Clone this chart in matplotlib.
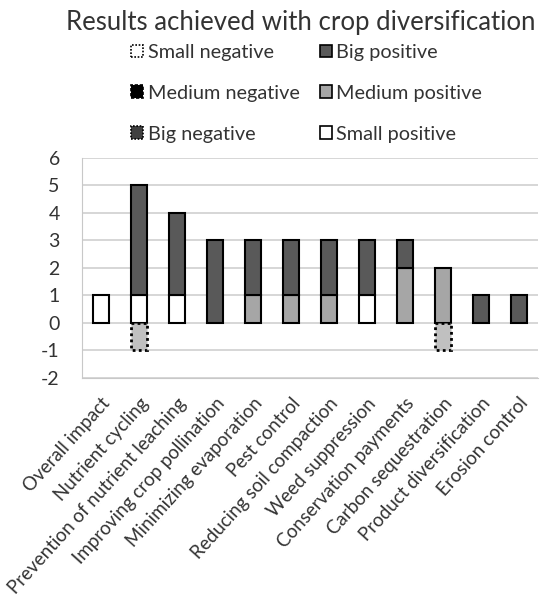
import matplotlib
matplotlib.use("Agg")
import matplotlib.pyplot as plt
from matplotlib.patches import Patch
import numpy as np

categories = ["Overall impact", "Nutrient cycling", "Prevention of nutrient leaching",
              "Improving crop pollination", "Minimizing evaporation", "Pest control",
              "Reducing soil compaction", "Weed suppression", "Conservation payments",
              "Carbon sequestration", "Product diversification", "Erosion control"]
small_positive = [1, 1, 1, 0, 0, 0, 0, 1, 0, 0, 0, 0]
medium_positive = [0, 0, 0, 0, 1, 1, 1, 0, 2, 2, 0, 0]
big_positive = [0, 4, 3, 3, 2, 2, 2, 2, 1, 0, 1, 1]
small_negative = [0, -1, 0, 0, 0, 0, 0, 0, 0, -1, 0, 0]
y_ticks = [-2, -1, 0, 1, 2, 3, 4, 5, 6]

plt.rcParams['font.family'] = ['Lato', 'DejaVu Sans']
text_color = "#333333"

fig = plt.figure(figsize=(5.41, 5.98), dpi=100)
ax = fig.add_axes([0.1516, 0.3679, 0.8429, 0.3679])

x = np.arange(len(categories))
w = 0.42
sp = np.array(small_positive)
mp = np.array(medium_positive)
bp = np.array(big_positive)
sn = np.array(small_negative)


def stacked(values, bottom, **style):
    keep = values != 0
    ax.bar(x[keep], values[keep], w, bottom=bottom[keep], zorder=3, **style)


zeros = np.zeros(len(categories))
stacked(sp, zeros, color="white", edgecolor="black", linewidth=1.5)
stacked(mp, sp, color="#a6a6a6", edgecolor="black", linewidth=1.5)
stacked(bp, sp + mp, color="#595959", edgecolor="black", linewidth=1.5)
stacked(sn, zeros, color="#c0c0c0", edgecolor="black", linewidth=2, linestyle=(0, (1, 1.2)))

ax.set_xlim(-0.5, len(categories) - 0.5)
ax.set_ylim(-2, 6)
ax.set_yticks(y_ticks)
ax.set_yticklabels([str(t) for t in y_ticks], fontsize=14, color=text_color)
ax.tick_params(axis="y", length=0, pad=16)
ax.tick_params(axis="x", length=0, pad=12)
ax.set_xticks(x)
ax.set_xticklabels(categories, rotation=48, ha="right", va="top", rotation_mode="anchor",
                   fontsize=13.5, color=text_color)
ax.grid(axis="y", color="#d0d0d0", linewidth=1.2, zorder=0)
for s in ["top", "right"]:
    ax.spines[s].set_visible(False)
for s in ["left", "bottom"]:
    ax.spines[s].set_color("#c8c8c8")

fig.text(0.555, 0.963, "Results achieved with crop diversification", ha="center", va="center",
         fontsize=18.5, color=text_color)

handles = [
    Patch(facecolor="white", edgecolor="black", linestyle=(0, (1, 1)), linewidth=1.2, label="Small negative"),
    Patch(facecolor="black", edgecolor="black", linestyle=(0, (2, 1)), linewidth=1.2, label="Medium negative"),
    Patch(facecolor="#404040", edgecolor="black", linestyle=(0, (1, 1)), linewidth=1.2, label="Big negative"),
    Patch(facecolor="#595959", edgecolor="black", linewidth=1.2, label="Big positive"),
    Patch(facecolor="#a6a6a6", edgecolor="black", linewidth=1.2, label="Medium positive"),
    Patch(facecolor="white", edgecolor="black", linewidth=1.2, label="Small positive"),
]
leg = fig.legend(handles=handles, ncol=2, loc="upper left", bbox_to_anchor=(0.224, 0.943),
                 frameon=False, fontsize=14.3, handlelength=0.62, handleheight=0.62,
                 handletextpad=0.22, columnspacing=1.0, labelspacing=1.2, borderpad=0)
for t in leg.get_texts():
    t.set_color(text_color)

fig.savefig("out.png", dpi=100, facecolor="white")
